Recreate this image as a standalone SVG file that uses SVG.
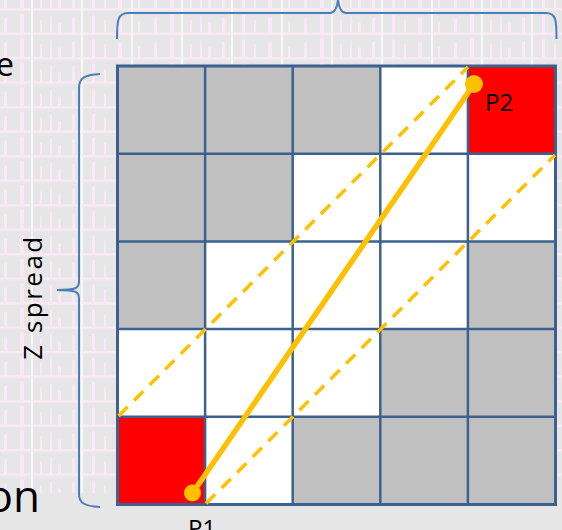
<svg xmlns="http://www.w3.org/2000/svg" width="562" height="530" viewBox="0 0 562 530">
<style>
.g{fill:#c0c0c0}.w{fill:#ffffff}.r{fill:#ff0000}
.grid{stroke:#3c6190;stroke-width:2.5;fill:none}
.outer{stroke:#3c6190;stroke-width:3;fill:none}
.brace{stroke:#4a7ebb;stroke-width:2;fill:none}
.dash{stroke:#ffc000;stroke-width:3.5;stroke-dasharray:13 9;fill:none}
.solid{stroke:#ffc000;stroke-width:5.5;fill:none}
.pt{fill:#ffc000}
.lbl{font-family:"Open Sans","Noto Sans",sans-serif;fill:#000}
</style>
<defs>
<pattern id="bg" x="0" y="8" width="150" height="24.5" patternUnits="userSpaceOnUse">
<rect x="0" y="0" width="150" height="24.5" fill="#e6e6e6"/>
<g fill="#fae8f7">
<rect x="0" y="0" width="150" height="2.5"/>
<rect x="4" y="10" width="3" height="14.5"/>
<rect x="20" y="6" width="4" height="18.5"/>
<rect x="40" y="12" width="2" height="12.5"/>
<rect x="50" y="8" width="2" height="16.5"/>
<rect x="58" y="15" width="3" height="9.5"/>
<rect x="72" y="9" width="3" height="15.5"/>
<rect x="92" y="7" width="3" height="17.5"/>
<rect x="104" y="12" width="2" height="12.5"/>
<rect x="118" y="10" width="4" height="14.5"/>
<rect x="138" y="14" width="2" height="10.5"/>
</g>
<rect x="31" y="0" width="2" height="24.5" fill="#f7f7f7"/>
<rect x="81" y="0" width="2" height="24.5" fill="#f7f7f7"/>
<rect x="131" y="0" width="2" height="24.5" fill="#f7f7f7"/>
</pattern>
</defs>
<rect x="0" y="0" width="562" height="530" fill="#e6e6e6"/>
<rect x="0" y="0" width="562" height="493" fill="url(#bg)"/>

<g id="labels">
<text class="lbl" x="14" y="76" font-size="32" text-anchor="end">e</text>
<text class="lbl" x="40" y="512" font-size="44" text-anchor="end">on</text>
<text class="lbl" font-size="26" letter-spacing="2.5" text-anchor="middle" transform="translate(42,297) rotate(-90)">Z spread</text>
</g>

<g id="braces">
<path class="brace" d="M117,39 C117,20 118,13 128,13 L330,13 C335,13 337,8 338,0 C339,8 341,13 346,13 L546,13 C556,13 556.5,20 556.5,39"/>
<path class="brace" d="M100,74 C84,75 79,78 79,88 L79,282 C79,288 76,290 57,290 C76,290 79,292 79,298 L79,494 C79,503 84,506 100,507"/>
</g>

<g id="cells">
<rect class="g" x="117.5" y="66" width="87.6" height="87.7"/>
<rect class="g" x="205.1" y="66" width="87.6" height="87.7"/>
<rect class="g" x="292.7" y="66" width="87.6" height="87.7"/>
<rect class="w" x="380.3" y="66" width="87.6" height="87.7"/>
<rect class="r" x="467.9" y="66" width="87.6" height="87.7"/>
<rect class="g" x="117.5" y="153.7" width="87.6" height="87.7"/>
<rect class="g" x="205.1" y="153.7" width="87.6" height="87.7"/>
<rect class="w" x="292.7" y="153.7" width="87.6" height="87.7"/>
<rect class="w" x="380.3" y="153.7" width="87.6" height="87.7"/>
<rect class="w" x="467.9" y="153.7" width="87.6" height="87.7"/>
<rect class="g" x="117.5" y="241.4" width="87.6" height="87.7"/>
<rect class="w" x="205.1" y="241.4" width="87.6" height="87.7"/>
<rect class="w" x="292.7" y="241.4" width="87.6" height="87.7"/>
<rect class="w" x="380.3" y="241.4" width="87.6" height="87.7"/>
<rect class="g" x="467.9" y="241.4" width="87.6" height="87.7"/>
<rect class="w" x="117.5" y="329.1" width="87.6" height="87.7"/>
<rect class="w" x="205.1" y="329.1" width="87.6" height="87.7"/>
<rect class="w" x="292.7" y="329.1" width="87.6" height="87.7"/>
<rect class="g" x="380.3" y="329.1" width="87.6" height="87.7"/>
<rect class="g" x="467.9" y="329.1" width="87.6" height="87.7"/>
<rect class="r" x="117.5" y="416.8" width="87.6" height="87.7"/>
<rect class="w" x="205.1" y="416.8" width="87.6" height="87.7"/>
<rect class="g" x="292.7" y="416.8" width="87.6" height="87.7"/>
<rect class="g" x="380.3" y="416.8" width="87.6" height="87.7"/>
<rect class="g" x="467.9" y="416.8" width="87.6" height="87.7"/>
</g>

<g id="gridlines">
<path class="grid" d="M205.1,66V504.5M292.7,66V504.5M380.3,66V504.5M467.9,66V504.5M117.5,153.7H555.5M117.5,241.4H555.5M117.5,329.1H555.5M117.5,416.8H555.5"/>
<rect class="outer" x="117.5" y="66" width="438" height="438.5"/>
</g>

<g id="connectors">
<line class="dash" x1="118.5" y1="416" x2="468" y2="67"/>
<line class="dash" x1="206" y1="503.5" x2="555" y2="155"/>
<line class="solid" x1="192.5" y1="493" x2="474" y2="84"/>
</g>

<g id="P1">
<circle class="pt" cx="192.5" cy="493" r="8.5"/>
<text class="lbl" x="202" y="537" font-size="24" text-anchor="middle">P1</text>
</g>
<g id="P2">
<circle class="pt" cx="474" cy="84" r="9"/>
<text class="lbl" x="485" y="111" font-size="24">P2</text>
</g>
</svg>
